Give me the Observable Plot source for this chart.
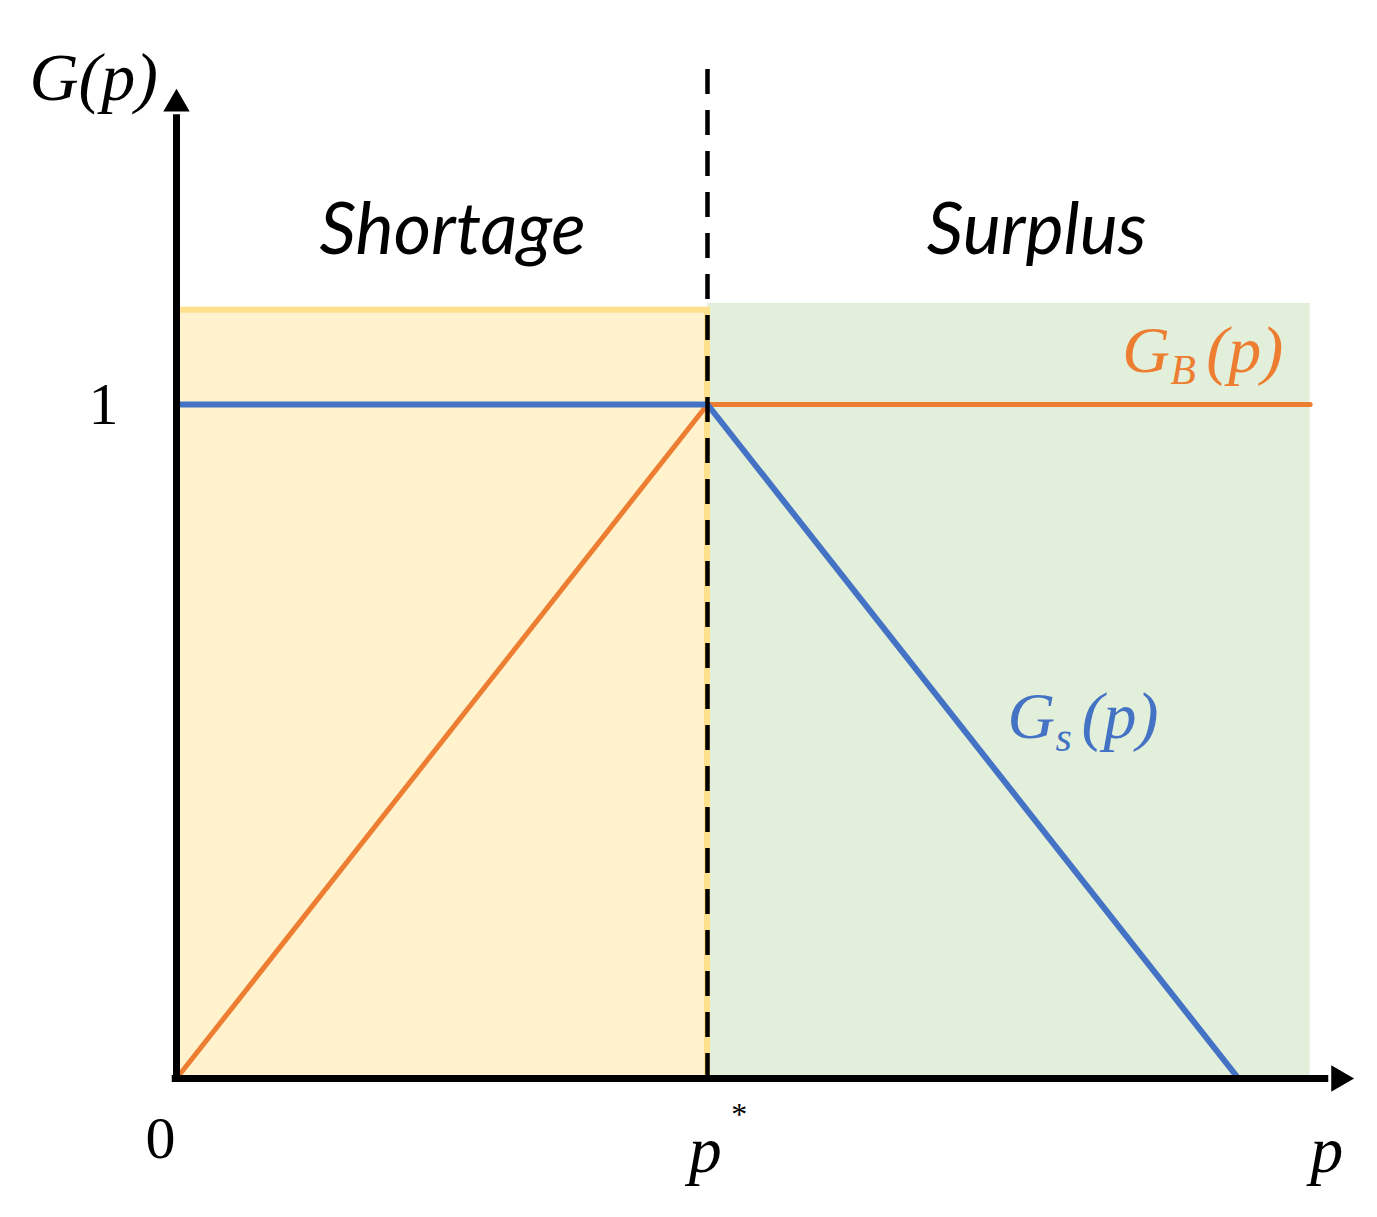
<!DOCTYPE html>
<html><head><meta charset="utf-8">
<script src="https://cdn.jsdelivr.net/npm/d3@7"></script>
<script src="https://cdn.jsdelivr.net/npm/@observablehq/plot@0.6"></script>
<style>body{margin:0;background:#fff}</style>
</head><body><div id="chart"></div>
<script>
// ---- data ----
const pStar = 1;            // equilibrium price p*
const gsP = [0, 1, 2];      // G_s(p) breakpoints
const gsG = [1, 1, 0];
const gbP = [0, 1, 2.135];  // G_B(p) breakpoints
const gbG = [0, 1, 1];
const regionNames = ["Shortage", "Surplus"];
const regionP1 = [0, 1];
const regionP2 = [1, 2.135];
const regionTop = [1.14, 1.15];
const regionFill = ["#FFF2CC", "#E2EFDA"];
const regionLabelP = [0.52, 1.62];
const regionLabelG = [1.258, 1.258];
const yTicks = [1];
const xDomain = [0, 2.2166];
const yDomain = [0, 1.5];

const gsData = gsP.map((p, i) => ({p, g: gsG[i]}));
const gbData = gbP.map((p, i) => ({p, g: gbG[i]}));
const regions = regionNames.map((name, i) => ({name, p1: regionP1[i], p2: regionP2[i], top: regionTop[i], fill: regionFill[i], lp: regionLabelP[i], lg: regionLabelG[i]}));

const serif = "Liberation Serif";
const mathText = (data, opts) => Plot.text(data, {fontFamily: serif, fontStyle: "italic", ...opts});

const chart = Plot.plot({
  width: 1377,
  height: 1217,
  marginLeft: 176,
  marginRight: 24,
  marginTop: 67,
  marginBottom: 139,
  x: {domain: xDomain, axis: null},
  y: {domain: yDomain, axis: null},
  style: {background: "white", overflow: "visible"},
  marks: [
    // shaded regions (surplus first, shortage on top)
    Plot.rect([regions[1]], {x1: "p1", x2: "p2", y1: 0, y2: "top", fill: "fill"}),
    Plot.rect([regions[0]], {x1: "p1", x2: "p2", y1: 0, y2: "top", fill: "fill", stroke: "#FFE08C", strokeWidth: 6}),
    // curves
    Plot.line(gbData, {x: "p", y: "g", stroke: "#ED7D31", strokeWidth: 5}),
    Plot.line(gsData, {x: "p", y: "g", stroke: "#4472C4", strokeWidth: 6}),
    // p* dashed line
    Plot.ruleX([pStar], {y1: 0, y2: 1.503, stroke: "black", strokeWidth: 4.5, strokeDasharray: "25,16"}),
    // axes with arrows
    Plot.ruleY([0], {x1: -0.008, x2: 2.17, stroke: "black", strokeWidth: 7}),
    Plot.ruleX([0], {y1: -0.006, y2: 1.43, stroke: "black", strokeWidth: 7}),
    Plot.dot([{p: 2.189, g: 0}], {x: "p", y: "g", symbol: "triangle", r: 9.8, rotate: 90, fill: "black"}),
    Plot.dot([{p: 0, g: 1.446}], {x: "p", y: "g", symbol: "triangle", r: 9.8, fill: "black"}),
    Plot.axisY(yTicks, {anchor: "left", tickSize: 0, tickPadding: 58, fontSize: 60, fontFamily: serif, tickFormat: d => String(d), fill: "black"}),
    // region labels
    Plot.text(regions, {x: "lp", y: "lg", text: "name", fontFamily: "Lato", fontStyle: "italic", fontSize: 72, fill: "black"}),
    // axis labels
    mathText([{p: -0.156, g: 1.484}], {x: "p", y: "g", text: d => "G(p)", fontSize: 68, fill: "black"}),
    Plot.text([{p: -0.030, g: -0.089}], {x: "p", y: "g", text: d => "0", fontFamily: serif, fontSize: 60, fill: "black"}),
    mathText([{p: 0.996, g: -0.107}], {x: "p", y: "g", text: d => "p", fontSize: 66, fill: "black"}),
    Plot.text([{p: 0.996, g: -0.107}], {x: "p", y: "g", text: d => "*", fontFamily: serif, fontSize: 32, dx: 34, dy: -36, fill: "black"}),
    mathText([{p: 2.166, g: -0.107}], {x: "p", y: "g", text: d => "p", fontSize: 66, fill: "black"}),
    // curve labels G_B(p)
    mathText([{p: 1.781, g: 1.08}], {x: "p", y: "g", text: d => "G", fontSize: 66, textAnchor: "start", fill: "#ED7D31"}),
    mathText([{p: 1.781, g: 1.08}], {x: "p", y: "g", text: d => "B", fontSize: 42, textAnchor: "start", dx: 48, dy: 20, fill: "#ED7D31"}),
    mathText([{p: 1.781, g: 1.08}], {x: "p", y: "g", text: d => "(p)", fontSize: 66, textAnchor: "start", dx: 84, fill: "#ED7D31"}),
    // curve labels G_s(p)
    mathText([{p: 1.565, g: 0.536}], {x: "p", y: "g", text: d => "G", fontSize: 66, textAnchor: "start", fill: "#4472C4"}),
    mathText([{p: 1.565, g: 0.536}], {x: "p", y: "g", text: d => "s", fontSize: 42, textAnchor: "start", dx: 48, dy: 20, fill: "#4472C4"}),
    mathText([{p: 1.565, g: 0.536}], {x: "p", y: "g", text: d => "(p)", fontSize: 66, textAnchor: "start", dx: 74, fill: "#4472C4"})
  ]
});
document.getElementById("chart").appendChild(chart);
</script>
</body></html>
